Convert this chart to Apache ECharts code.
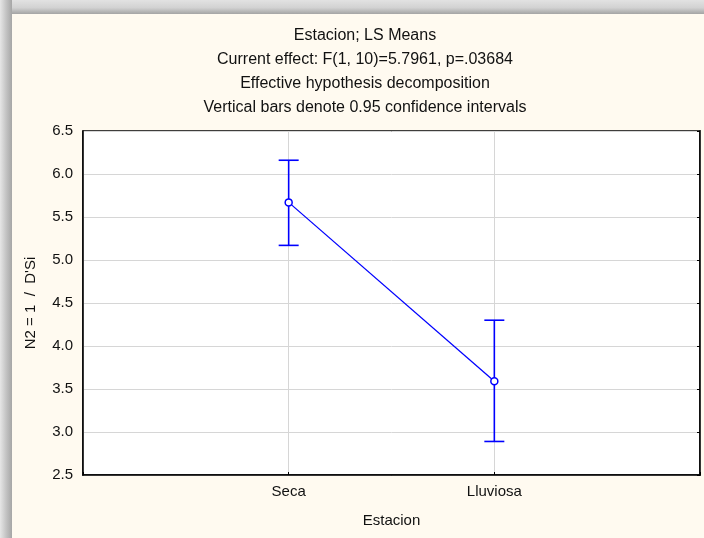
<!DOCTYPE html>
<html>
<head>
<meta charset="utf-8">
<script src="https://cdn.jsdelivr.net/npm/echarts@6/dist/echarts.min.js"></script>
<style>
  html, body { margin: 0; padding: 0; background: #fff; }
  #chart { width: 704px; height: 538px; }
</style>
</head>
<body>
<div id="chart"></div>
<script>
  // categories padded with empty slots so points sit at 1/3 and 2/3 of the plot
  var categories = ['', 'Seca', 'Lluviosa', '']
  var means = [5.67, 3.59]
  var lower = [5.17, 2.89]
  var upper = [6.16, 4.30]
  var titleLines = [
    'Estacion; LS Means',
    'Current effect: F(1, 10)=5.7961, p=.03684',
    'Effective hypothesis decomposition',
    'Vertical bars denote 0.95 confidence intervals'
  ]

  var font = '"Liberation Sans", Arial, sans-serif'
  var blue = '#0000ff'

  var lineData = ['-'].concat(means, ['-'])
  var barData = means.map(function (m, i) {
    return [i + 1, lower[i], upper[i]]
  })

  var graphics = [
    // grey shadow frame
    {
      type: 'rect', z: -10, silent: true,
      shape: { x: 0, y: 0, width: 704, height: 14 },
      style: { fill: new echarts.graphic.LinearGradient(0, 0, 0, 1, [
        { offset: 0, color: '#e2e2e2' }, { offset: 0.55, color: '#d2d2d2' }, { offset: 1, color: '#a4a4a4' }]) }
    },
    {
      type: 'rect', z: -10, silent: true,
      shape: { x: 0, y: 0, width: 12, height: 538 },
      style: { fill: new echarts.graphic.LinearGradient(0, 0, 1, 0, [
        { offset: 0, color: '#e6e6e6' }, { offset: 0.5, color: '#c4c4c4' }, { offset: 1, color: '#a6a6a6' }]) }
    },
    {
      type: 'rect', z: -9, silent: true,
      shape: { x: 12, y: 14, width: 692, height: 524 },
      style: { fill: '#fffaf0' }
    }
  ]
  titleLines.forEach(function (t, i) {
    graphics.push({
      type: 'text', x: 365, y: 36 + i * 24,
      style: { text: t, font: '16px ' + font, fill: '#111', align: 'center', verticalAlign: 'middle' }
    })
  })

  var chart = echarts.init(document.getElementById('chart'))
  chart.setOption({
    animation: false,
    graphic: graphics,
    grid: {
      left: 83, right: 4, top: 131, bottom: 63,
      show: true, backgroundColor: '#fff', borderColor: '#000', borderWidth: 1.5
    },
    xAxis: {
      type: 'category',
      data: categories,
      boundaryGap: false,
      name: 'Estacion',
      nameLocation: 'middle',
      nameGap: 38,
      nameTextStyle: { fontFamily: font, fontSize: 15, color: '#111' },
      axisLine: { lineStyle: { color: '#000', width: 1.5 } },
      axisTick: { inside: true, length: 3, lineStyle: { color: '#000' } },
      axisLabel: { fontFamily: font, fontSize: 15, color: '#111', margin: 9 },
      splitLine: { show: true, lineStyle: { color: '#d6d6d6', width: 1 } }
    },
    yAxis: [{
      type: 'value',
      min: 2.5,
      max: 6.5,
      interval: 0.5,
      name: 'N2 = 1  /  D\'Si',
      nameLocation: 'middle',
      nameGap: 45,
      nameTextStyle: { fontFamily: font, fontSize: 15, color: '#111' },
      axisLine: { show: true, lineStyle: { color: '#000', width: 1.5 } },
      axisTick: { show: false },
      axisLabel: {
        fontFamily: font, fontSize: 15, color: '#111', margin: 10,
        formatter: function (v) { return v.toFixed(1) }
      },
      splitLine: { show: true, lineStyle: { color: '#d6d6d6', width: 1 } }
    }, {
      type: 'value',
      position: 'right',
      min: 2.5,
      max: 6.5,
      interval: 0.5,
      axisLine: { show: true, lineStyle: { color: '#000', width: 1.5 } },
      axisTick: { show: true, inside: true, length: 3, lineStyle: { color: '#000' } },
      axisLabel: { show: false },
      splitLine: { show: false }
    }],
    series: [{
      type: 'custom',
      data: barData,
      z: 3,
      renderItem: function (params, api) {
        var x = api.value(0)
        var lo = api.coord([x, api.value(1)])
        var hi = api.coord([x, api.value(2)])
        var cap = 10
        var st = { stroke: blue, lineWidth: 1.6 }
        return {
          type: 'group',
          children: [
            { type: 'line', shape: { x1: hi[0], y1: hi[1], x2: lo[0], y2: lo[1] }, style: st },
            { type: 'line', shape: { x1: hi[0] - cap, y1: hi[1], x2: hi[0] + cap, y2: hi[1] }, style: st },
            { type: 'line', shape: { x1: lo[0] - cap, y1: lo[1], x2: lo[0] + cap, y2: lo[1] }, style: st }
          ]
        }
      }
    }, {
      type: 'line',
      data: lineData,
      z: 4,
      symbol: 'circle',
      symbolSize: 7,
      lineStyle: { color: blue, width: 1.3 },
      itemStyle: { color: '#fff', borderColor: blue, borderWidth: 1.5 }
    }]
  })
</script>
</body>
</html>
